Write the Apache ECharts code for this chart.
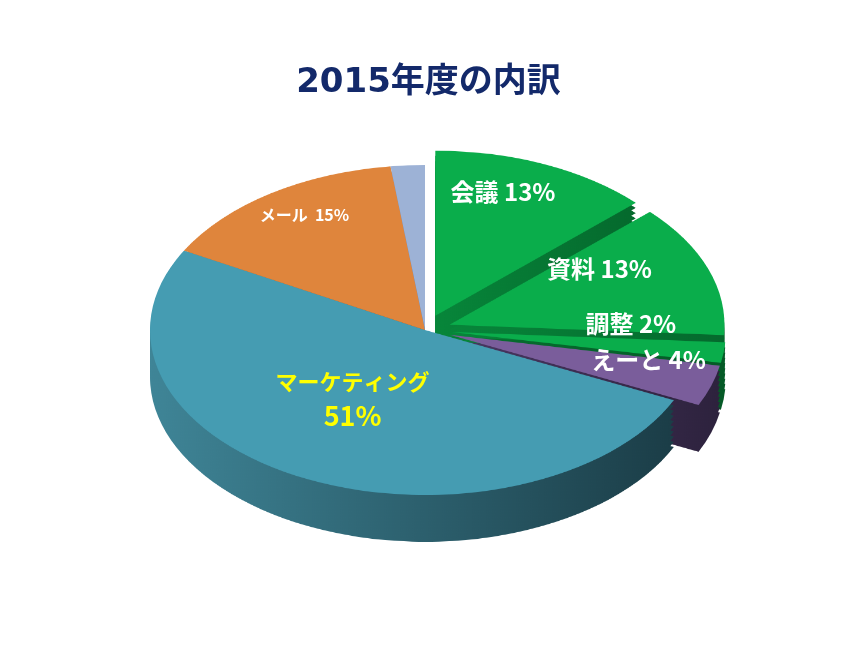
<!DOCTYPE html>
<html>
<head>
<meta charset="utf-8">
<title>2015年度の内訳</title>
<script src="https://cdn.jsdelivr.net/npm/echarts@6/dist/echarts.min.js"></script>
<style>
html, body { margin: 0; padding: 0; background: #fff; }
#wrap { position: relative; width: 857px; height: 658px; overflow: hidden; }
#pie { position: absolute; left: 0; top: 0; width: 857px; height: 1000px; transform-origin: 0 330px; transform: scaleY(0.6); }
#main { position: absolute; left: 0; top: 0; width: 857px; height: 658px; }
</style>
</head>
<body>
<div id="wrap">
	<div id="pie"></div>
	<div id="main"></div>
</div>
<script>
// data
var names = ['会議', '資料', '調整', 'えーと', 'マーケティング', 'メール', 'その他'];
var values = [13, 13, 2, 4, 51, 15, 2];
var exploded = ['会議', '資料', '調整', 'えーと'];

// look
var topColors = ['#0aad4b', '#0aad4b', '#0aad4b', '#7a5d9b', '#459cb2', '#df853c', '#9db2d6'];
var sideColors = [
	['#07863a', '#05692d'], ['#07863a', '#05692d'], ['#06702f', '#055a27'],
	['#4a3863', '#2d223d'], ['#3f8597', '#1b3d47'], ['#b96a2c', '#8e4f1f'], ['#7d92b8', '#5e7196']
];
// label anchor factors [x, y] relative to radius
var labelAnchor = [[0.62, 0.82], [0.58, 1.0], [0.66, -0.40], [0.76, 0.50], [0.58, 0.47], [0.78, 0.84], [0.5, 0.5]];

var CX = 425, CY = 330, R = 275, SY = 0.6, OFFSET = 26, DEPTH = 78;

function itemData(colorFn) {
	var list = [];
	for (var i = 0; i < names.length; i++) {
		list.push({
			name: names[i],
			value: values[i],
			selected: exploded.indexOf(names[i]) >= 0,
			itemStyle: { color: colorFn(i) }
		});
	}
	return list;
}

function pieLayer(dy, colorFn, z) {
	return {
		type: 'pie',
		silent: true,
		z: z,
		center: [CX, CY + dy],
		radius: R,
		startAngle: 90,
		clockwise: true,
		selectedMode: 'multiple',
		selectedOffset: OFFSET,
		label: { show: false },
		labelLine: { show: false },
		itemStyle: { borderWidth: 0 },
		select: { itemStyle: { borderWidth: 0 } },
		emphasis: { disabled: true },
		data: itemData(colorFn)
	};
}

var layers = [];
var steps = 9;
for (var s = steps; s >= 1; s--) {
	layers.push(pieLayer(DEPTH * s / steps, function (i) {
		return new echarts.graphic.LinearGradient(0, 0, 1, 0, [
			{ offset: 0, color: sideColors[i][0] },
			{ offset: 1, color: sideColors[i][1] }
		]);
	}, 1));
}
layers.push(pieLayer(0, function (i) { return topColors[i]; }, 2));

var pieChart = echarts.init(document.getElementById('pie'));
pieChart.setOption({ animation: false, series: layers });

// labels and title, drawn flat over the squashed pie
var total = 0;
for (var t = 0; t < values.length; t++) total += values[t];

var labelData = [];
for (var i = 0; i < names.length; i++) {
	var lab = { show: true, color: '#fff', fontSize: 24, fontWeight: 'bold', formatter: '{b} {c}%' };
	if (names[i] === 'マーケティング') {
		lab = {
			show: true, color: '#ffff00', fontWeight: 'bold',
			formatter: '{n|{b}}\n{p|{c}%}',
			rich: {
				n: { color: '#ffff00', fontSize: 22, fontWeight: 'bold', lineHeight: 34 },
				p: { color: '#ffff00', fontSize: 27, fontWeight: 'bold', lineHeight: 34 }
			}
		};
	} else if (names[i] === 'メール') {
		lab = { show: true, color: '#fff', fontSize: 16, fontWeight: 'bold', formatter: '{b}  {c}%' };
	} else if (names[i] === 'その他') {
		lab = { show: false };
	}
	labelData.push({ name: names[i], value: values[i], label: lab });
}

var myChart = echarts.init(document.getElementById('main'));
var option = {
	animation: false,
	title: {
		text: '2015年度の内訳',
		left: 'center',
		top: 61,
		textStyle: { color: '#13296a', fontSize: 34, fontWeight: 'bold', fontFamily: '"DejaVu Sans", "Noto Sans CJK JP"' }
	},
	textStyle: { fontFamily: 'Noto Sans CJK JP' },
	series: [{
		type: 'pie',
		silent: true,
		center: [CX, CY],
		radius: R,
		startAngle: 90,
		clockwise: true,
		itemStyle: { color: 'rgba(0,0,0,0)', borderWidth: 0 },
		label: { position: 'inside', fontFamily: 'Noto Sans CJK JP' },
		labelLine: { show: false },
		emphasis: { disabled: true },
		labelLayout: function (p) {
			var i = p.dataIndex;
			var before = 0;
			for (var j = 0; j < i; j++) before += values[j];
			var mid = (before + values[i] / 2) / total * Math.PI * 2;
			var off = exploded.indexOf(names[i]) >= 0 ? OFFSET : 0;
			var a = labelAnchor[i];
			return {
				x: CX + Math.sin(mid) * (off + a[0] * R),
				y: CY - Math.cos(mid) * (off + a[1] * R) * SY,
				align: 'center',
				verticalAlign: 'middle'
			};
		},
		data: labelData
	}]
};
myChart.setOption(option);
</script>
</body>
</html>
